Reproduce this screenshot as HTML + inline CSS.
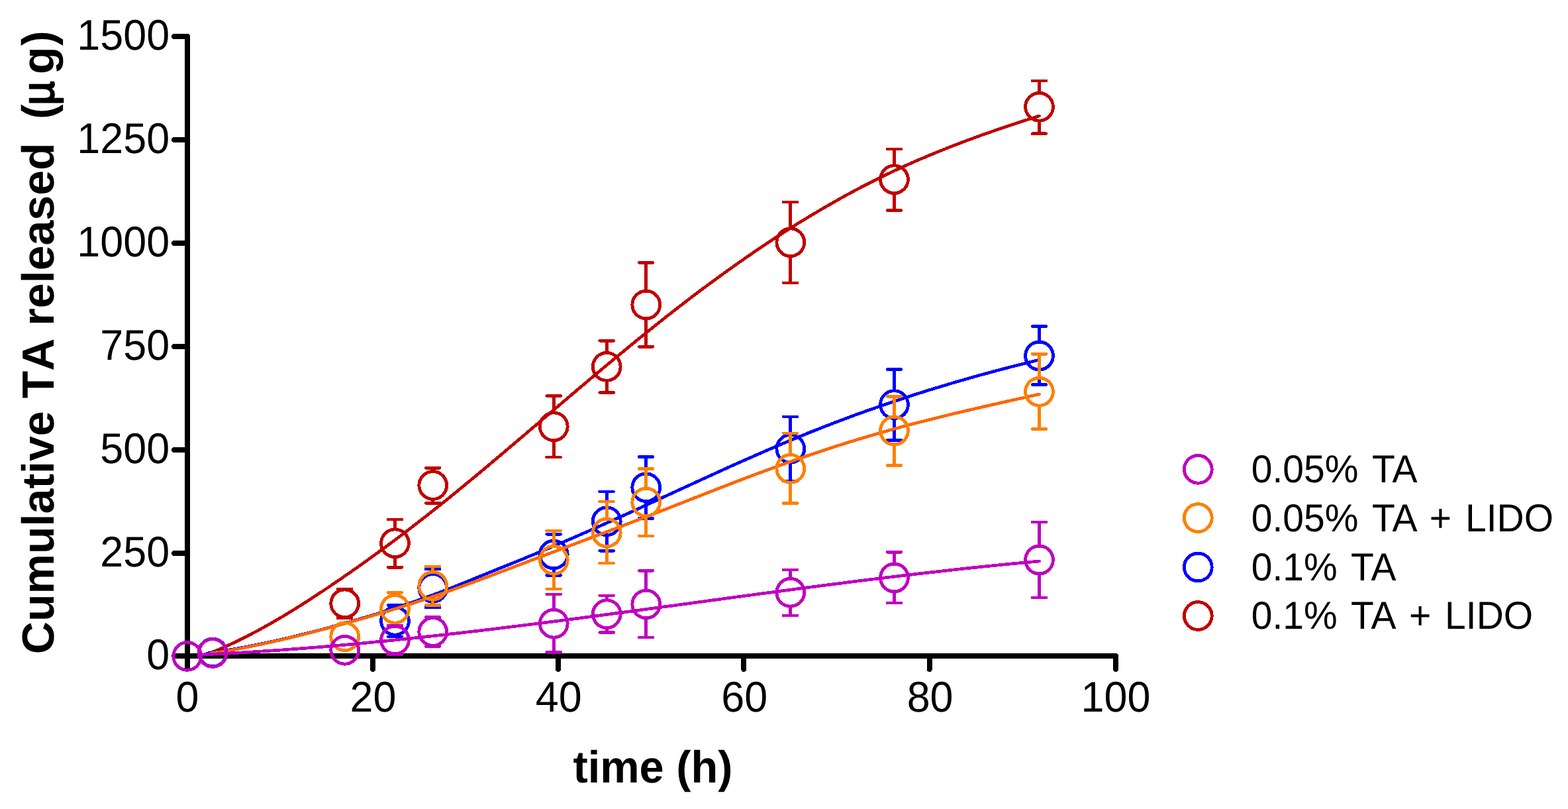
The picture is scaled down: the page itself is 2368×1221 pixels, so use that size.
<!DOCTYPE html>
<html lang="en"><head><meta charset="utf-8"><title>Cumulative TA released</title>
<style>
html,body{margin:0;padding:0;background:#fff;}
body{width:2368px;height:1221px;overflow:hidden;}
svg{display:block;}
text{font-family:"Liberation Sans",Arial,Helvetica,sans-serif;fill:#000;}
text{font-kerning:none;}
.t{font-size:64.8px;}
.b{font-size:68.1px;font-weight:bold;}
.l{font-size:58.8px;font-kerning:normal;}
</style></head><body>
<svg width="2368" height="1221" viewBox="0 0 2368 1221" shape-rendering="crispEdges" text-rendering="geometricPrecision">
<rect width="2368" height="1221" fill="#fff"/>

<g stroke="#000" stroke-width="8" fill="none" stroke-linecap="round" stroke-linejoin="round">
<path d="M263.0,55.000000000000114 H283.0 V990.0" />
<path d="M263.0,990.0 H1685.0 V1010.0" />
</g>
<g stroke="#000" stroke-width="8" fill="none" stroke-linecap="round">
<path d="M263.0,990.00 H283.0"/>
<path d="M263.0,835.00 H283.0"/>
<path d="M263.0,679.00 H283.0"/>
<path d="M263.0,523.00 H283.0"/>
<path d="M263.0,367.00 H283.0"/>
<path d="M263.0,211.00 H283.0"/>
<path d="M263.0,55.00 H283.0"/>
<path d="M283.00,990.0 V1010.0"/>
<path d="M563.00,990.0 V1010.0"/>
<path d="M843.00,990.0 V1010.0"/>
<path d="M1123.30,990.0 V1010.0"/>
<path d="M1403.70,990.0 V1010.0"/>
<path d="M1685.00,990.0 V1010.0"/>
</g>
<text class="t" transform="translate(256.1,1010.2) scale(0.97,1)" text-anchor="end">0</text>
<text class="t" transform="translate(256.1,855.2) scale(0.97,1)" text-anchor="end">250</text>
<text class="t" transform="translate(256.1,699.2) scale(0.97,1)" text-anchor="end">500</text>
<text class="t" transform="translate(256.1,543.2) scale(0.97,1)" text-anchor="end">750</text>
<text class="t" transform="translate(256.1,387.2) scale(0.97,1)" text-anchor="end">1000</text>
<text class="t" transform="translate(256.1,231.2) scale(0.97,1)" text-anchor="end">1250</text>
<text class="t" transform="translate(256.1,75.2) scale(0.97,1)" text-anchor="end">1500</text>
<text class="t" transform="translate(283.0,1073.8) scale(0.97,1)" text-anchor="middle">0</text>
<text class="t" transform="translate(563.4,1073.8) scale(0.97,1)" text-anchor="middle">20</text>
<text class="t" transform="translate(843.8,1073.8) scale(0.97,1)" text-anchor="middle">40</text>
<text class="t" transform="translate(1124.2,1073.8) scale(0.97,1)" text-anchor="middle">60</text>
<text class="t" transform="translate(1404.6,1073.8) scale(0.97,1)" text-anchor="middle">80</text>
<text class="t" transform="translate(1685.0,1073.8) scale(0.97,1)" text-anchor="middle">100</text>
<text class="b" transform="translate(986,1181) scale(0.98,1)" text-anchor="middle">time (h)</text>
<text class="b" transform="translate(81.3,987.3) rotate(-90)"><tspan x="0">Cumulative TA released</tspan>  <tspan x="807.3">(</tspan><tspan x="828.6" textLength="36.4" lengthAdjust="spacingAndGlyphs" style="font-weight:normal" stroke="#000" stroke-width="2.5" stroke-linejoin="round">µ</tspan><tspan x="875.2" letter-spacing="1.6">g)</tspan></text>
<g fill="none" stroke="#c00000">
<path d="M318.0,985.5 L336.1,977.9 L354.3,969.6 L372.4,960.7 L390.6,951.1 L408.7,941.0 L426.8,930.5 L445.0,919.4 L463.1,908.0 L481.2,896.2 L499.4,884.1 L517.5,871.7 L535.7,859.1 L553.8,846.3 L571.9,833.1 L590.1,819.8 L608.2,806.2 L626.3,792.3 L644.5,778.2 L662.6,763.9 L680.8,749.3 L698.9,734.5 L717.0,719.6 L735.2,704.4 L753.3,689.2 L771.4,673.8 L789.6,658.4 L807.7,643.0 L825.9,627.5 L844.0,612.1 L862.1,596.7 L880.3,581.3 L898.4,566.1 L916.5,550.9 L934.7,535.9 L952.8,521.0 L971.0,506.2 L989.1,491.7 L1007.2,477.3 L1025.4,463.1 L1043.5,449.2 L1061.6,435.6 L1079.8,422.2 L1097.9,409.1 L1116.1,396.2 L1134.2,383.6 L1152.3,371.3 L1170.5,359.3 L1188.6,347.6 L1206.7,336.2 L1224.9,325.2 L1243.0,314.4 L1261.2,304.0 L1279.3,293.9 L1297.4,284.2 L1315.6,274.9 L1333.7,265.9 L1351.8,257.2 L1370.0,248.9 L1388.1,240.9 L1406.3,233.3 L1424.4,225.9 L1442.5,218.8 L1460.7,211.9 L1478.8,205.3 L1496.9,198.9 L1515.1,192.7 L1533.2,186.6 L1551.4,180.7 L1569.5,175.0" stroke="#c00000" stroke-width="4.7" stroke-linejoin="round" stroke-linecap="round"/>
<path d="M510.00,888.80 H531.20" stroke-width="4.5" stroke-linecap="round"/>
<path d="M510.00,932.80 H531.20" stroke-width="4.5" stroke-linecap="round"/>
<path d="M596.5,797.45 V783.75" stroke-width="4.8"/>
<path d="M585.80,783.75 H607.00" stroke-width="4.5" stroke-linecap="round"/>
<path d="M596.5,842.15 V856.25" stroke-width="4.8"/>
<path d="M585.80,856.25 H607.00" stroke-width="4.5" stroke-linecap="round"/>
<path d="M653.75,710.15 V706.25" stroke-width="4.8"/>
<path d="M643.05,706.25 H664.25" stroke-width="4.5" stroke-linecap="round"/>
<path d="M653.75,754.85 V759.25" stroke-width="4.8"/>
<path d="M643.05,759.25 H664.25" stroke-width="4.5" stroke-linecap="round"/>
<path d="M836.25,621.45 V597.50" stroke-width="4.8"/>
<path d="M825.55,597.50 H846.75" stroke-width="4.5" stroke-linecap="round"/>
<path d="M836.25,666.15 V690.00" stroke-width="4.8"/>
<path d="M825.55,690.00 H846.75" stroke-width="4.5" stroke-linecap="round"/>
<path d="M916.25,531.05 V514.25" stroke-width="4.8"/>
<path d="M905.55,514.25 H926.75" stroke-width="4.5" stroke-linecap="round"/>
<path d="M916.25,575.75 V592.50" stroke-width="4.8"/>
<path d="M905.55,592.50 H926.75" stroke-width="4.5" stroke-linecap="round"/>
<path d="M975.75,437.65 V396.40" stroke-width="4.8"/>
<path d="M965.05,396.40 H986.25" stroke-width="4.5" stroke-linecap="round"/>
<path d="M975.75,482.35 V523.25" stroke-width="4.8"/>
<path d="M965.05,523.25 H986.25" stroke-width="4.5" stroke-linecap="round"/>
<path d="M1193.8,343.40 V305.00" stroke-width="4.8"/>
<path d="M1183.10,305.00 H1204.30" stroke-width="4.5" stroke-linecap="round"/>
<path d="M1193.8,388.10 V426.75" stroke-width="4.8"/>
<path d="M1183.10,426.75 H1204.30" stroke-width="4.5" stroke-linecap="round"/>
<path d="M1350.5,248.40 V225.00" stroke-width="4.8"/>
<path d="M1339.80,225.00 H1361.00" stroke-width="4.5" stroke-linecap="round"/>
<path d="M1350.5,293.10 V317.50" stroke-width="4.8"/>
<path d="M1339.80,317.50 H1361.00" stroke-width="4.5" stroke-linecap="round"/>
<path d="M1569.5,138.95 V121.90" stroke-width="4.8"/>
<path d="M1558.80,121.90 H1580.00" stroke-width="4.5" stroke-linecap="round"/>
<path d="M1569.5,183.65 V201.70" stroke-width="4.8"/>
<path d="M1558.80,201.70 H1580.00" stroke-width="4.5" stroke-linecap="round"/>
<circle cx="282.8" cy="990.4" r="20.9" stroke-width="4.9"/>
<circle cx="321.2" cy="985.0" r="20.9" stroke-width="4.9"/>
<circle cx="520.7" cy="910.8" r="20.9" stroke-width="4.9"/>
<circle cx="596.5" cy="819.8" r="20.9" stroke-width="4.9"/>
<circle cx="653.75" cy="732.5" r="20.9" stroke-width="4.9"/>
<circle cx="836.25" cy="643.8" r="20.9" stroke-width="4.9"/>
<circle cx="916.25" cy="553.4" r="20.9" stroke-width="4.9"/>
<circle cx="975.75" cy="460" r="20.9" stroke-width="4.9"/>
<circle cx="1193.8" cy="365.75" r="20.9" stroke-width="4.9"/>
<circle cx="1350.5" cy="270.75" r="20.9" stroke-width="4.9"/>
<circle cx="1569.5" cy="161.3" r="20.9" stroke-width="4.9"/>
</g>
<g fill="none" stroke="#0000ff">
<path d="M313.0,986.0 L331.2,983.3 L349.4,980.4 L367.6,977.1 L385.8,973.6 L404.1,969.8 L422.3,965.8 L440.5,961.6 L458.7,957.1 L476.9,952.5 L495.1,947.7 L513.3,942.7 L531.5,937.6 L549.7,932.3 L567.9,926.9 L586.2,921.2 L604.4,915.3 L622.6,909.1 L640.8,902.7 L659.0,896.0 L677.2,889.0 L695.4,881.8 L713.6,874.4 L731.8,867.0 L750.0,859.6 L768.3,852.3 L786.5,844.9 L804.7,837.4 L822.9,829.8 L841.1,822.2 L859.3,814.4 L877.5,806.5 L895.7,798.5 L913.9,790.4 L932.1,782.2 L950.4,774.0 L968.6,765.7 L986.8,757.3 L1005.0,748.9 L1023.2,740.5 L1041.4,732.2 L1059.6,723.8 L1077.8,715.5 L1096.0,707.2 L1114.2,699.0 L1132.5,691.0 L1150.7,683.0 L1168.9,675.1 L1187.1,667.4 L1205.3,659.8 L1223.5,652.4 L1241.7,645.2 L1259.9,638.2 L1278.1,631.3 L1296.3,624.6 L1314.6,618.1 L1332.8,611.8 L1351.0,605.6 L1369.2,599.6 L1387.4,593.7 L1405.6,588.0 L1423.8,582.5 L1442.0,577.0 L1460.2,571.8 L1478.4,566.6 L1496.7,561.7 L1514.9,556.8 L1533.1,552.1 L1551.3,547.5 L1569.5,543.0" stroke="#0000ff" stroke-width="4.7" stroke-linejoin="round" stroke-linecap="round"/>
<path d="M596.5,914.95 V913.40" stroke-width="4.8"/>
<path d="M585.80,913.40 H607.00" stroke-width="4.5" stroke-linecap="round"/>
<path d="M596.5,959.65 V961.20" stroke-width="4.8"/>
<path d="M585.80,961.20 H607.00" stroke-width="4.5" stroke-linecap="round"/>
<path d="M653.75,865.15 V859.00" stroke-width="4.8"/>
<path d="M643.05,859.00 H664.25" stroke-width="4.5" stroke-linecap="round"/>
<path d="M653.75,909.85 V917.00" stroke-width="4.8"/>
<path d="M643.05,917.00 H664.25" stroke-width="4.5" stroke-linecap="round"/>
<path d="M836.25,814.65 V806.25" stroke-width="4.8"/>
<path d="M825.55,806.25 H846.75" stroke-width="4.5" stroke-linecap="round"/>
<path d="M836.25,859.35 V868.40" stroke-width="4.8"/>
<path d="M825.55,868.40 H846.75" stroke-width="4.5" stroke-linecap="round"/>
<path d="M916.25,764.40 V742.00" stroke-width="4.8"/>
<path d="M905.55,742.00 H926.75" stroke-width="4.5" stroke-linecap="round"/>
<path d="M916.25,809.10 V831.25" stroke-width="4.8"/>
<path d="M905.55,831.25 H926.75" stroke-width="4.5" stroke-linecap="round"/>
<path d="M975.75,713.40 V689.50" stroke-width="4.8"/>
<path d="M965.05,689.50 H986.25" stroke-width="4.5" stroke-linecap="round"/>
<path d="M975.75,758.10 V782.50" stroke-width="4.8"/>
<path d="M965.05,782.50 H986.25" stroke-width="4.5" stroke-linecap="round"/>
<path d="M1193.8,654.90 V628.75" stroke-width="4.8"/>
<path d="M1183.10,628.75 H1204.30" stroke-width="4.5" stroke-linecap="round"/>
<path d="M1193.8,699.60 V725.80" stroke-width="4.8"/>
<path d="M1183.10,725.80 H1204.30" stroke-width="4.5" stroke-linecap="round"/>
<path d="M1350.5,588.25 V557.50" stroke-width="4.8"/>
<path d="M1339.80,557.50 H1361.00" stroke-width="4.5" stroke-linecap="round"/>
<path d="M1350.5,632.95 V664.50" stroke-width="4.8"/>
<path d="M1339.80,664.50 H1361.00" stroke-width="4.5" stroke-linecap="round"/>
<path d="M1569.5,514.65 V492.50" stroke-width="4.8"/>
<path d="M1558.80,492.50 H1580.00" stroke-width="4.5" stroke-linecap="round"/>
<path d="M1569.5,559.35 V580.50" stroke-width="4.8"/>
<path d="M1558.80,580.50 H1580.00" stroke-width="4.5" stroke-linecap="round"/>
<circle cx="282.8" cy="990.4" r="20.9" stroke-width="4.9"/>
<circle cx="321.2" cy="985.0" r="20.9" stroke-width="4.9"/>
<circle cx="596.5" cy="937.3" r="20.9" stroke-width="4.9"/>
<circle cx="653.75" cy="887.5" r="20.9" stroke-width="4.9"/>
<circle cx="836.25" cy="837" r="20.9" stroke-width="4.9"/>
<circle cx="916.25" cy="786.75" r="20.9" stroke-width="4.9"/>
<circle cx="975.75" cy="735.75" r="20.9" stroke-width="4.9"/>
<circle cx="1193.8" cy="677.25" r="20.9" stroke-width="4.9"/>
<circle cx="1350.5" cy="610.6" r="20.9" stroke-width="4.9"/>
<circle cx="1569.5" cy="537" r="20.9" stroke-width="4.9"/>
</g>
<g fill="none" stroke="#ff8000">
<path d="M319.0,986.0 L337.1,983.2 L355.2,980.1 L373.4,976.7 L391.5,973.0 L409.6,969.1 L427.7,965.0 L445.9,960.6 L464.0,956.1 L482.1,951.4 L500.2,946.6 L518.4,941.7 L536.5,936.7 L554.6,931.5 L572.7,926.2 L590.8,920.8 L609.0,915.1 L627.1,909.4 L645.2,903.4 L663.3,897.2 L681.5,890.8 L699.6,884.3 L717.7,877.6 L735.8,870.9 L754.0,864.0 L772.1,857.2 L790.2,850.3 L808.3,843.4 L826.4,836.6 L844.6,829.8 L862.7,822.9 L880.8,816.1 L898.9,809.2 L917.1,802.4 L935.2,795.5 L953.3,788.6 L971.4,781.6 L989.6,774.6 L1007.7,767.6 L1025.8,760.5 L1043.9,753.4 L1062.1,746.3 L1080.2,739.2 L1098.3,732.2 L1116.4,725.2 L1134.5,718.3 L1152.7,711.6 L1170.8,705.0 L1188.9,698.5 L1207.0,692.1 L1225.2,685.9 L1243.3,679.8 L1261.4,673.9 L1279.5,668.2 L1297.7,662.6 L1315.8,657.2 L1333.9,652.0 L1352.0,646.9 L1370.1,642.0 L1388.3,637.3 L1406.4,632.7 L1424.5,628.2 L1442.6,623.8 L1460.8,619.5 L1478.9,615.3 L1497.0,611.2 L1515.1,607.1 L1533.3,603.0 L1551.4,599.0 L1569.5,595.0" stroke="#ff6600" stroke-width="4.7" stroke-linejoin="round" stroke-linecap="round"/>
<path d="M596.5,896.90 V894.40" stroke-width="4.8"/>
<path d="M585.80,894.40 H607.00" stroke-width="4.5" stroke-linecap="round"/>
<path d="M653.75,861.85 V855.10" stroke-width="4.8"/>
<path d="M643.05,855.10 H664.25" stroke-width="4.5" stroke-linecap="round"/>
<path d="M653.75,906.55 V913.40" stroke-width="4.8"/>
<path d="M643.05,913.40 H664.25" stroke-width="4.5" stroke-linecap="round"/>
<path d="M836.25,822.85 V801.00" stroke-width="4.8"/>
<path d="M825.55,801.00 H846.75" stroke-width="4.5" stroke-linecap="round"/>
<path d="M836.25,867.55 V888.75" stroke-width="4.8"/>
<path d="M825.55,888.75 H846.75" stroke-width="4.5" stroke-linecap="round"/>
<path d="M916.25,781.65 V757.00" stroke-width="4.8"/>
<path d="M905.55,757.00 H926.75" stroke-width="4.5" stroke-linecap="round"/>
<path d="M916.25,826.35 V850.00" stroke-width="4.8"/>
<path d="M905.55,850.00 H926.75" stroke-width="4.5" stroke-linecap="round"/>
<path d="M975.75,735.65 V707.50" stroke-width="4.8"/>
<path d="M965.05,707.50 H986.25" stroke-width="4.5" stroke-linecap="round"/>
<path d="M975.75,780.35 V808.75" stroke-width="4.8"/>
<path d="M965.05,808.75 H986.25" stroke-width="4.5" stroke-linecap="round"/>
<path d="M1193.8,684.95 V653.75" stroke-width="4.8"/>
<path d="M1183.10,653.75 H1204.30" stroke-width="4.5" stroke-linecap="round"/>
<path d="M1193.8,729.65 V759.50" stroke-width="4.8"/>
<path d="M1183.10,759.50 H1204.30" stroke-width="4.5" stroke-linecap="round"/>
<path d="M1350.5,627.65 V598.25" stroke-width="4.8"/>
<path d="M1339.80,598.25 H1361.00" stroke-width="4.5" stroke-linecap="round"/>
<path d="M1350.5,672.35 V702.50" stroke-width="4.8"/>
<path d="M1339.80,702.50 H1361.00" stroke-width="4.5" stroke-linecap="round"/>
<path d="M1569.5,568.90 V534.25" stroke-width="4.8"/>
<path d="M1558.80,534.25 H1580.00" stroke-width="4.5" stroke-linecap="round"/>
<path d="M1569.5,613.60 V647.50" stroke-width="4.8"/>
<path d="M1558.80,647.50 H1580.00" stroke-width="4.5" stroke-linecap="round"/>
<circle cx="282.8" cy="990.4" r="20.9" stroke-width="4.9"/>
<circle cx="321.2" cy="985.5" r="20.9" stroke-width="4.9"/>
<circle cx="520.7" cy="960.75" r="20.9" stroke-width="4.9"/>
<circle cx="596.5" cy="919.25" r="20.9" stroke-width="4.9"/>
<circle cx="653.75" cy="884.2" r="20.9" stroke-width="4.9"/>
<circle cx="836.25" cy="845.2" r="20.9" stroke-width="4.9"/>
<circle cx="916.25" cy="804.0" r="20.9" stroke-width="4.9"/>
<circle cx="975.75" cy="758" r="20.9" stroke-width="4.9"/>
<circle cx="1193.8" cy="707.3" r="20.9" stroke-width="4.9"/>
<circle cx="1350.5" cy="650" r="20.9" stroke-width="4.9"/>
<circle cx="1569.5" cy="591.25" r="20.9" stroke-width="4.9"/>
</g>
<g fill="none" stroke="#c000c0">
<path d="M305.0,988.0 L323.3,987.1 L341.7,986.2 L360.0,985.2 L378.3,984.1 L396.6,982.9 L415.0,981.7 L433.3,980.4 L451.6,979.0 L469.9,977.6 L488.3,976.1 L506.6,974.5 L524.9,972.9 L543.2,971.2 L561.6,969.4 L579.9,967.6 L598.2,965.8 L616.5,963.9 L634.9,961.9 L653.2,959.9 L671.5,957.9 L689.8,955.8 L708.2,953.7 L726.5,951.6 L744.8,949.4 L763.2,947.1 L781.5,944.9 L799.8,942.6 L818.1,940.3 L836.5,937.9 L854.8,935.6 L873.1,933.2 L891.4,930.8 L909.8,928.3 L928.1,925.9 L946.4,923.5 L964.7,921.0 L983.1,918.5 L1001.4,916.0 L1019.7,913.6 L1038.0,911.1 L1056.4,908.6 L1074.7,906.1 L1093.0,903.6 L1111.3,901.1 L1129.7,898.7 L1148.0,896.2 L1166.3,893.8 L1184.7,891.3 L1203.0,888.9 L1221.3,886.5 L1239.6,884.1 L1258.0,881.8 L1276.3,879.4 L1294.6,877.1 L1312.9,874.8 L1331.3,872.6 L1349.6,870.4 L1367.9,868.2 L1386.2,866.0 L1404.6,863.9 L1422.9,861.9 L1441.2,859.8 L1459.5,857.8 L1477.9,855.9 L1496.2,854.0 L1514.5,852.2 L1532.8,850.4 L1551.2,848.7 L1569.5,847.0" stroke="#c000c0" stroke-width="4.7" stroke-linejoin="round" stroke-linecap="round"/>
<path d="M585.80,944.00 H607.00" stroke-width="4.5" stroke-linecap="round"/>
<path d="M585.80,988.00 H607.00" stroke-width="4.5" stroke-linecap="round"/>
<path d="M643.05,931.50 H664.25" stroke-width="4.5" stroke-linecap="round"/>
<path d="M643.05,975.50 H664.25" stroke-width="4.5" stroke-linecap="round"/>
<path d="M836.25,918.85 V896.75" stroke-width="4.8"/>
<path d="M825.55,896.75 H846.75" stroke-width="4.5" stroke-linecap="round"/>
<path d="M836.25,963.55 V984.25" stroke-width="4.8"/>
<path d="M825.55,984.25 H846.75" stroke-width="4.5" stroke-linecap="round"/>
<path d="M916.25,904.40 V898.75" stroke-width="4.8"/>
<path d="M905.55,898.75 H926.75" stroke-width="4.5" stroke-linecap="round"/>
<path d="M916.25,949.10 V954.50" stroke-width="4.8"/>
<path d="M905.55,954.50 H926.75" stroke-width="4.5" stroke-linecap="round"/>
<path d="M975.75,889.65 V861.25" stroke-width="4.8"/>
<path d="M965.05,861.25 H986.25" stroke-width="4.5" stroke-linecap="round"/>
<path d="M975.75,934.35 V962.00" stroke-width="4.8"/>
<path d="M965.05,962.00 H986.25" stroke-width="4.5" stroke-linecap="round"/>
<path d="M1193.8,871.85 V860.20" stroke-width="4.8"/>
<path d="M1183.10,860.20 H1204.30" stroke-width="4.5" stroke-linecap="round"/>
<path d="M1193.8,916.55 V928.90" stroke-width="4.8"/>
<path d="M1183.10,928.90 H1204.30" stroke-width="4.5" stroke-linecap="round"/>
<path d="M1350.5,849.65 V833.25" stroke-width="4.8"/>
<path d="M1339.80,833.25 H1361.00" stroke-width="4.5" stroke-linecap="round"/>
<path d="M1350.5,894.35 V910.00" stroke-width="4.8"/>
<path d="M1339.80,910.00 H1361.00" stroke-width="4.5" stroke-linecap="round"/>
<path d="M1569.5,822.65 V788.00" stroke-width="4.8"/>
<path d="M1558.80,788.00 H1580.00" stroke-width="4.5" stroke-linecap="round"/>
<path d="M1569.5,867.35 V901.75" stroke-width="4.8"/>
<path d="M1558.80,901.75 H1580.00" stroke-width="4.5" stroke-linecap="round"/>
<circle cx="282.8" cy="990.4" r="20.9" stroke-width="4.9"/>
<circle cx="321.2" cy="985.5" r="20.9" stroke-width="4.9"/>
<circle cx="520.7" cy="981.25" r="20.9" stroke-width="4.9"/>
<circle cx="596.5" cy="966.0" r="20.9" stroke-width="4.9"/>
<circle cx="653.75" cy="953.5" r="20.9" stroke-width="4.9"/>
<circle cx="836.25" cy="941.2" r="20.9" stroke-width="4.9"/>
<circle cx="916.25" cy="926.75" r="20.9" stroke-width="4.9"/>
<circle cx="975.75" cy="912" r="20.9" stroke-width="4.9"/>
<circle cx="1193.8" cy="894.2" r="20.9" stroke-width="4.9"/>
<circle cx="1350.5" cy="872" r="20.9" stroke-width="4.9"/>
<circle cx="1569.5" cy="845" r="20.9" stroke-width="4.9"/>
</g>
<circle cx="1809.3" cy="708.3" r="20.9" stroke="#c000c0" stroke-width="4.9" fill="none"/>
<text class="l" transform="translate(0,728.2) scale(0.97,1)"><tspan x="1948.25">0.05%</tspan> <tspan x="2136.08">TA</tspan></text>
<circle cx="1809.3" cy="781.6" r="20.9" stroke="#ff8000" stroke-width="4.9" fill="none"/>
<text class="l" transform="translate(0,801.5) scale(0.97,1)"><tspan x="1948.25">0.05%</tspan> <tspan x="2136.08">TA</tspan> <tspan x="2225.57">+</tspan> <tspan x="2281.44">LIDO</tspan></text>
<circle cx="1809.3" cy="856.0" r="20.9" stroke="#0000ff" stroke-width="4.9" fill="none"/>
<text class="l" transform="translate(0,875.9) scale(0.97,1)"><tspan x="1948.25">0.1%</tspan> <tspan x="2103.09">TA</tspan></text>
<circle cx="1809.3" cy="929.5" r="20.9" stroke="#c00000" stroke-width="4.9" fill="none"/>
<text class="l" transform="translate(0,949.4) scale(0.97,1)"><tspan x="1948.25">0.1%</tspan> <tspan x="2103.09">TA</tspan> <tspan x="2193.81">+</tspan> <tspan x="2249.59">LIDO</tspan></text>
</svg></body></html>
